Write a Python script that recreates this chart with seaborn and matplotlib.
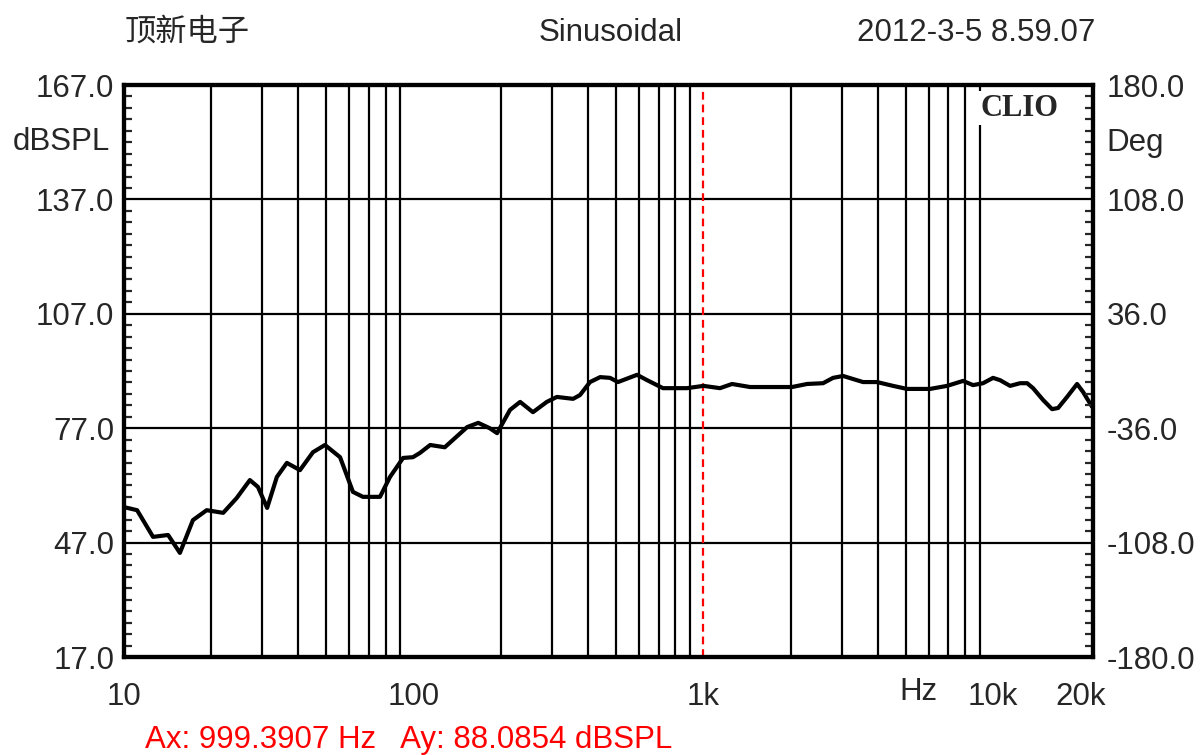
import matplotlib
matplotlib.use("Agg")
import matplotlib.pyplot as plt
import matplotlib.transforms as mtransforms
import numpy as np
import seaborn as sns
from matplotlib.ticker import FixedLocator


# Frequency response
freq_hz = [10, 11.1, 12.6, 14.2, 15.6, 17.3, 19.3, 22, 24.5, 27.2, 29, 31.2, 33.7,
           36.5, 40.5, 44.9, 49.4, 55.7, 61.7, 66.8, 76.5, 82.8, 91.9, 99.4, 105,
           114, 128, 153, 167, 183, 194, 215, 233, 258, 288, 312, 355, 375, 406,
           440, 476, 507, 590, 639, 725, 877, 1000, 1141, 1255, 1448, 2022, 2279,
           2587, 2801, 3033, 3284, 3556, 3975, 4513, 5045, 6053, 6933, 7870, 8522,
           9226, 9990, 10560, 11440, 12380, 13100, 13730, 14870, 15970, 16750,
           17990, 19480, 20430, 21950]
spl_db = [56.3, 55.5, 48.5, 49.0, 44.3, 52.9, 55.5, 54.8, 58.7, 63.4, 61.6, 56.1, 64.2,
          67.9, 66.0, 70.7, 72.6, 69.4, 60.3, 59.0, 59.0, 64.2, 69.2, 69.4, 70.5,
          72.6, 72.0, 77.3, 78.4, 77.0, 75.7, 81.8, 83.9, 81.2, 83.9, 85.2, 84.7, 85.7, 89.1,
          90.4, 90.2, 89.1, 91.0, 89.6, 87.5, 87.5, 88.1, 87.5, 88.6, 87.8, 87.8, 88.6,
          88.8, 90.2, 90.7, 89.9, 89.1, 89.1, 88.1, 87.3, 87.3, 88.1, 89.4, 88.3,
          88.8, 90.2, 89.6, 88.1, 88.8, 88.8, 87.5, 84.4, 82.0, 82.3,
          85.2, 88.6, 86.5, 82.6]

left_ticks = [17.0, 47.0, 77.0, 107.0, 137.0, 167.0]
right_ticks = [-180.0, -108.0, -36.0, 36.0, 108.0, 180.0]
x_ticks = [10, 100, 1000, 10000, 20000]
x_labels = ["10", "100", "1k", "10k", "20k"]
grid_freqs = ([m * 10 for m in range(2, 10)] + [m * 100 for m in range(1, 10)]
              + [m * 1000 for m in range(2, 10)] + [10000, 20000])
cursor_hz = 999.3907
cursor_db = 88.0854

sns.set_style("white")
plt.rcParams["font.family"] = ["Liberation Sans", "Noto Sans CJK SC", "DejaVu Sans"]
FS = 22.5

fig = plt.figure(figsize=(12, 7.55), dpi=100)
ax = fig.add_axes([0.1033, 0.1298, 0.8075, 0.7576])
ax.set_xscale("log")
ax.set_xlim(10, 22100)
ax.set_ylim(17, 167)

# grid
ax.xaxis.set_minor_locator(FixedLocator(grid_freqs))
ax.grid(True, which="minor", axis="x", color="black", lw=1.6)
ax.grid(True, which="major", axis="y", color="black", lw=1.6)
ax.grid(False, which="major", axis="x")
ax.set_axisbelow(True)

ax.axvline(cursor_hz, color="red", lw=1.6, ls=(0, (3.5, 2.2)), zorder=1.5)

sns.lineplot(x=freq_hz, y=spl_db, ax=ax, color="black", lw=3.0, sort=False,
             zorder=3)

ax.set_xticks(x_ticks)
ax.set_xticklabels(x_labels)
ax.tick_params(axis="x", which="both", length=0, pad=18, labelsize=FS)
ax.set_yticks(left_ticks)
ax.set_yticklabels([f"{v:.1f}" for v in left_ticks])
ax.yaxis.set_minor_locator(FixedLocator(np.arange(17, 167, 3)))
ax.tick_params(axis="y", which="both", direction="in", left=True, width=1.6,
               labelsize=FS, pad=7)
ax.tick_params(axis="y", which="major", length=0)
ax.tick_params(axis="y", which="minor", length=6)
for sp in ax.spines.values():
    sp.set_linewidth(3)
    sp.set_color("black")

ax2 = ax.twinx()
ax2.set_ylim(-180, 180)
ax2.set_yticks(right_ticks)
ax2.set_yticklabels([f"{v:.1f}" for v in right_ticks])
ax2.yaxis.set_minor_locator(FixedLocator(np.arange(-180, 180, 7.2)))
ax2.tick_params(axis="y", which="both", direction="in", right=True, width=1.6,
                labelsize=FS, pad=10)
ax2.tick_params(axis="y", which="major", length=0)
ax2.tick_params(axis="y", which="minor", length=6)
for sp in ax2.spines.values():
    sp.set_linewidth(3)
    sp.set_color("black")
ax2.grid(False)

# "Hz" unit label among the frequency labels
tr = mtransforms.blended_transform_factory(ax.transData, fig.transFigure)
fig.text(5500, 1 - 692 / 755, "Hz", transform=tr, ha="center", va="center",
         fontsize=FS)

ax.text(0.964, 0.985, "CLIO", transform=ax.transAxes, ha="right", va="top",
        fontsize=22, fontweight="bold", family="Liberation Serif", zorder=4,
        bbox=dict(facecolor="white", edgecolor="none", pad=2))

fig.text(0.104, 1 - 33 / 755, "顶新电子", ha="left", va="center", fontsize=FS)
fig.text(0.509, 1 - 33 / 755, "Sinusoidal", ha="center", va="center", fontsize=FS)
fig.text(0.9125, 1 - 33 / 755, "2012-3-5 8.59.07", ha="right", va="center",
         fontsize=FS)
fig.text(0.092, 1 - 142 / 755, "dBSPL", ha="right", va="center", fontsize=FS)
fig.text(0.922, 1 - 143 / 755, "Deg", ha="left", va="center", fontsize=FS)
fig.text(0.121, 1 - 740 / 755,
         f"Ax: {cursor_hz:.4f} Hz   Ay: {cursor_db:.4f} dBSPL",
         ha="left", va="center", fontsize=FS, color="red")

fig.savefig("out.png", dpi=100, facecolor="white")
